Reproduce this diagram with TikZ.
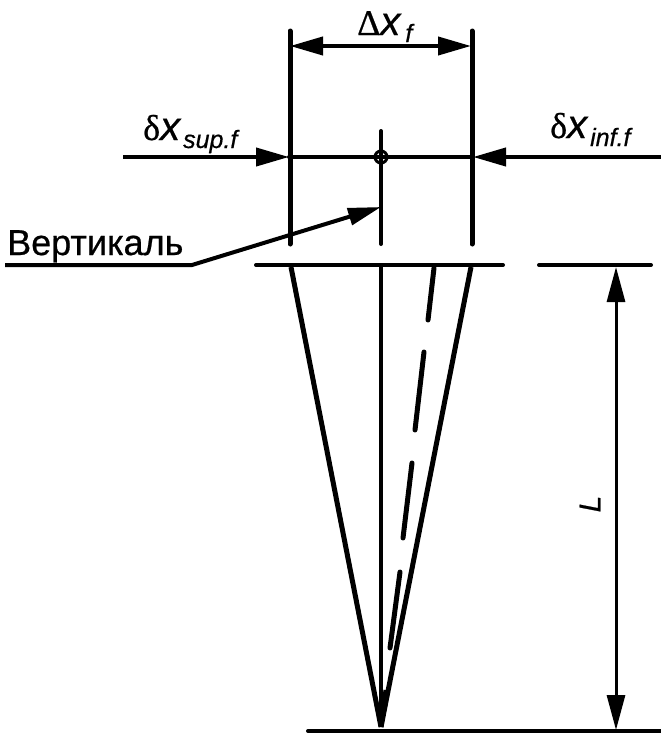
\documentclass[tikz,border=0pt]{standalone}
\usepackage{fontspec}
\setmainfont{Liberation Sans}[FakeBold=0.6]
\newfontfamily\seriffont{Liberation Serif}
\usetikzlibrary{arrows.meta}
\newcommand{\heavy}{\addfontfeature{FakeBold=0.6}}
\tikzset{
  line/.style={line width=5pt,line cap=round,black},
  thin line/.style={line width=4pt,line cap=round,black},
  arr/.style={line width=4pt,line cap=butt,black,-{Triangle[length=33pt,width=18pt]}},
  lbl/.style={inner sep=0pt,anchor=base west}
}
\begin{document}
\begin{tikzpicture}[x=1pt,y=-1pt]
\useasboundingbox (0,0) rectangle (661,742);
% named points
\coordinate (LT) at (290,31);
\coordinate (LB) at (290,244);
\coordinate (RT) at (472,31);
\coordinate (RB) at (472,244);
\coordinate (LA) at (290,46);
\coordinate (RA) at (471,46);
\coordinate (LH) at (289,157);
\coordinate (RH) at (473,157);
\coordinate (LFree) at (123,157);
\coordinate (RFree) at (661,157);
\coordinate (CT) at (381,131);
\coordinate (CB) at (381,244);
\coordinate (B1a) at (256,265);
\coordinate (B1b) at (503,265);
\coordinate (B2a) at (539,265);
\coordinate (B2b) at (651,265);
\coordinate (G1) at (308,731);
\coordinate (G2) at (661,731);
\coordinate (Apex) at (381,727);
\coordinate (LS) at (291,267);
\coordinate (RS) at (471,267);
\coordinate (C0) at (381,265);
\coordinate (LU) at (616,267);
\coordinate (LD) at (616,730);
\coordinate (Lead0) at (5,265);
\coordinate (Lead1) at (192,265);
\coordinate (Lead2) at (381,207);
% extension lines
\draw[line] (LT) -- (LB);
\draw[line] (RT) -- (RB);
\draw[thin line] (CT) -- (CB);
\draw[thin line] (B1a) -- (B1b);
\draw[thin line] (B2a) -- (B2b);
\draw[thin line] (G1) -- (G2);
% dimension arrows
\draw[thin line,line cap=butt,{Triangle[length=33pt,width=18pt]}-{Triangle[length=33pt,width=18pt]}] (LA) -- (RA);
\draw[arr] (LFree) -- (LH);
\draw[arr] (RFree) -- (RH);
\draw[thin line] (LH) -- (RH);
\draw[line width=3pt,line cap=butt,{Triangle[length=35pt,width=18pt]}-{Triangle[length=35pt,width=18pt]}] (LU) -- (LD);
% centre mark
\node[circle,draw,line width=3pt,minimum size=12pt,inner sep=0pt] (Mark) at (381,157) {};
% leader
\draw[thin line,line cap=butt,line join=miter,-{Triangle[length=33pt,width=17pt]}] (Lead0) -- (Lead1) -- (Lead2);
% cone
\draw[line,line cap=butt] (LS) -- (Apex);
\draw[line,line cap=butt] (RS) -- (Apex);
\draw[thin line,line cap=butt] (C0) -- (Apex);
% dashed ray
\draw[line] (434,268) -- (428,320);
\draw[line] (424,352) -- (415,430);
\draw[line] (412,463) -- (403,538);
\draw[line] (400,572) -- (390,648);
\draw[line,line cap=butt] (386,690) -- (381,727);
% labels
\node[lbl,font=\fontsize{36}{36}\selectfont] (Vert) at (7,255) {Вертикаль};
\node[lbl] (DX) at (357,35) {{\seriffont\fontsize{36}{36}\selectfont\heavy Δ}{\fontsize{40}{40}\selectfont\itshape x}\hspace{5pt}\raisebox{-7pt}{\fontsize{25}{25}\selectfont\itshape f}};
\node[lbl] (DS) at (143,140) {{\seriffont\fontsize{36}{36}\selectfont\heavy δ}{\fontsize{40}{40}\selectfont\itshape x}\hspace{3pt}\raisebox{-8pt}{\fontsize{25}{25}\selectfont\itshape sup.f}};
\node[lbl] (DI) at (550,138) {{\seriffont\fontsize{36}{36}\selectfont\heavy δ}{\fontsize{40}{40}\selectfont\itshape x}\hspace{3pt}\raisebox{-8pt}{\fontsize{25}{25}\selectfont\itshape inf.f}};
\node[inner sep=0pt,rotate=90,font=\fontsize{30}{30}\selectfont\itshape] (Ltxt) at (590,504) {L};
\end{tikzpicture}
\end{document}
